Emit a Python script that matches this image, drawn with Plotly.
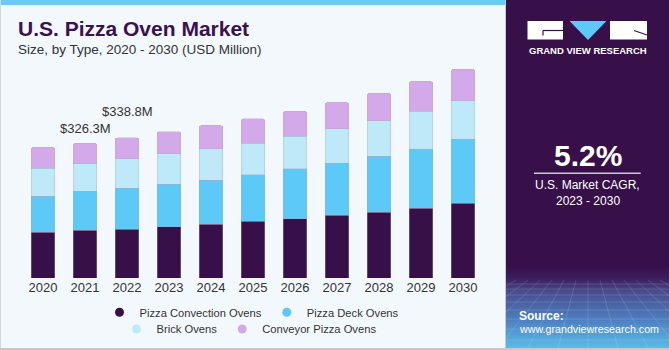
import plotly.graph_objects as go

# ---------------- data ----------------
years = ["2020", "2021", "2022", "2023", "2024", "2025", "2026", "2027", "2028", "2029", "2030"]
convection = [110.5, 115.0, 118.4, 124.0, 130.5, 136.8, 143.3, 151.3, 159.5, 169.2, 181.3]
deck = [87.0, 94.3, 98.1, 103.2, 106.3, 112.9, 120.9, 125.7, 134.4, 142.6, 154.7]
brick = [68.4, 67.0, 71.5, 73.3, 75.7, 75.7, 79.0, 83.9, 86.3, 91.8, 92.6]
conveyor = [50.0, 50.0, 50.8, 53.2, 56.4, 59.0, 60.4, 63.6, 66.9, 71.5, 76.6]
series_names = ["Pizza Convection Ovens", "Pizza Deck Ovens", "Brick Ovens", "Conveyor Pizza Ovens"]
label_years = ["2021", "2022"]
cagr_text = "5.2%"

# ---------------- styling ----------------
W, H = 670, 350
COLORS = ["#37104a", "#5cc9f6", "#bde9f9", "#d4a9ea"]
BG = "#f3f8fc"
PURPLE = "#37104a"
FONT = "Liberation Sans, Arial, sans-serif"


def px(x):
    return x / W


def py(y):
    return 1 - y / H


fig = go.Figure()
series = [convection, deck, brick, conveyor]
for name, vals, col in zip(series_names, series, COLORS):
    fig.add_trace(go.Bar(
        x=years, y=vals, name=name,
        marker=dict(color=col, line=dict(color="rgba(170,170,190,0.6)", width=0.6)),
        showlegend=False, hoverinfo="x+y+name"))

# legend entries (circle markers), split in two centred rows
for i, (name, col) in enumerate(zip(series_names, COLORS)):
    fig.add_trace(go.Scatter(
        x=[years[0]], y=[-100], mode="markers", name=name,
        marker=dict(symbol="circle", size=9, color=col),
        legend="legend" if i < 2 else "legend2", hoverinfo="skip"))

totals = [a + b + c + d for a, b, c, d in zip(*series)]
shifts = {"2021": 15, "2022": 26}
annotations = []
for yr in label_years:
    idx = years.index(yr)
    annotations.append(dict(
        x=idx, y=totals[idx], xref="x", yref="y", text=f"${totals[idx]:.1f}M",
        showarrow=False, xanchor="center", yanchor="middle", yshift=shifts[yr],
        font=dict(family=FONT, size=13, color="#333333")))

# title & subtitle
annotations.append(dict(x=px(16), y=py(28.5), xref="paper", yref="paper", xanchor="left", yanchor="middle",
                        text="<b>U.S. Pizza Oven Market</b>", showarrow=False,
                        font=dict(family=FONT, size=21, color="#3a1150")))
annotations.append(dict(x=px(16), y=py(49.5), xref="paper", yref="paper", xanchor="left", yanchor="middle",
                        text="Size, by Type, 2020 - 2030 (USD Million)", showarrow=False,
                        font=dict(family=FONT, size=13.5, color="#333333")))

# right panel texts
annotations.append(dict(x=px(587.5), y=py(50.7), xref="paper", yref="paper", xanchor="center", yanchor="middle",
                        text="<b>GRAND VIEW RESEARCH</b>", showarrow=False,
                        font=dict(family=FONT, size=9.5, color="white")))
annotations.append(dict(x=px(587.5), y=py(155), xref="paper", yref="paper", xanchor="center", yanchor="middle",
                        text=f"<b>{cagr_text}</b>", showarrow=False,
                        font=dict(family=FONT, size=30, color="white")))
annotations.append(dict(x=px(587.5), y=py(185), xref="paper", yref="paper", xanchor="center", yanchor="middle",
                        text="U.S. Market CAGR,", showarrow=False,
                        font=dict(family=FONT, size=12, color="white")))
annotations.append(dict(x=px(587.5), y=py(200.7), xref="paper", yref="paper", xanchor="center", yanchor="middle",
                        text="2023 - 2030", showarrow=False,
                        font=dict(family=FONT, size=12, color="white")))
annotations.append(dict(x=px(517), y=py(315.7), xref="paper", yref="paper", xanchor="left", yanchor="middle",
                        text="<b>Source:</b>", showarrow=False,
                        font=dict(family=FONT, size=12, color="white")))
annotations.append(dict(x=px(517), y=py(329.3), xref="paper", yref="paper", xanchor="left", yanchor="middle",
                        text="www.grandviewresearch.com", showarrow=False,
                        font=dict(family=FONT, size=10.7, color="white")))

shapes = []


def rect(x0, y0, x1, y1, color, layer="below", line=None):
    shapes.append(dict(type="rect", xref="paper", yref="paper", x0=px(x0), x1=px(x1), y0=py(y1), y1=py(y0),
                       fillcolor=color, line=line or dict(width=0), layer=layer))


def seg(x0, y0, x1, y1, color, width=1, layer="above"):
    shapes.append(dict(type="line", xref="paper", yref="paper", x0=px(x0), x1=px(x1), y0=py(y0), y1=py(y1),
                       line=dict(color=color, width=width), layer=layer))


# top stripe
rect(0, 0, 505, 5, "#6ccbf1")
# panel
rect(506, 0, 670, 348, PURPLE)


def lerp(c1, c2, t):
    return "#%02x%02x%02x" % tuple(int(round(a + (b - a) * t)) for a, b in zip(c1, c2))


stops = [(265, (55, 16, 74)), (278, (62, 30, 95)), (290, (72, 75, 140)), (320, (78, 130, 195)), (348, (90, 190, 235))]
y = 265
while y < 348:
    for (ya, ca), (yb, cb) in zip(stops[:-1], stops[1:]):
        if ya <= y < yb:
            c = lerp(ca, cb, (y - ya) / (yb - ya))
    rect(506, y, 670, min(y + 2, 348), c)
    y += 2

# faint perspective grid
for gy in [284, 289, 295, 302, 310, 319, 329, 340]:
    seg(506, gy, 670, gy, "rgba(255,255,255,0.13)", 1, "below")
for k in range(-8, 9):
    seg(588 + k * 12, 280, 588 + k * 30, 348, "rgba(255,255,255,0.13)", 1, "below")

# borders
seg(0.5, 0, 0.5, 350, "#d6d6d6", 1)
seg(505.5, 0, 505.5, 348, "#c8c8d0", 1)
rect(0, 348, 670, 350, "#c8c8c8", "above")
seg(669.5, 0, 669.5, 350, "#d6d6d6", 1)

# logo
rect(527.5, 21, 563, 39.5, "white", "above")
seg(543, 30.5, 563, 30.5, PURPLE, 1.2)
seg(543, 30.5, 543, 35.5, PURPLE, 1.2)
shapes.append(dict(type="path", xref="paper", yref="paper",
                   path=f"M {px(569.5)} {py(21)} L {px(606.5)} {py(21)} L {px(588)} {py(40)} Z",
                   fillcolor="#5cc9f6", line=dict(width=0), layer="above"))
rect(610, 21, 647, 39.5, "white", "above")
seg(634, 30.5, 647, 35, PURPLE, 1.2)
# divider line under CAGR
seg(534, 173.3, 640.7, 173.3, "#cfc6da", 1.5)

fig.update_layout(
    width=W, height=H, margin=dict(l=0, r=0, t=0, b=0, autoexpand=False),
    paper_bgcolor=BG, plot_bgcolor="rgba(0,0,0,0)",
    barmode="stack", bargap=0.43, barcornerradius=2,
    xaxis=dict(domain=[px(22), px(484)], type="category", categoryorder="array", categoryarray=years,
               range=[-0.5, len(years) - 0.5], autorange=False, showgrid=False,
               zeroline=False, showline=False, ticks="", fixedrange=True,
               tickfont=dict(family=FONT, size=13, color="#333333")),
    yaxis=dict(domain=[py(278), py(60)], range=[0, 527], autorange=False, visible=False, fixedrange=True),
    legend=dict(orientation="h", x=px(252), xanchor="center", y=py(312.3), yanchor="middle",
                traceorder="normal", bgcolor="rgba(0,0,0,0)", font=dict(family=FONT, size=11.2, color="#333333"),
                itemclick=False, itemdoubleclick=False),
    legend2=dict(orientation="h", x=px(249), xanchor="center", y=py(329), yanchor="middle",
                 traceorder="normal", bgcolor="rgba(0,0,0,0)", font=dict(family=FONT, size=11.2, color="#333333"),
                 itemclick=False, itemdoubleclick=False),
    annotations=annotations, shapes=shapes, showlegend=True,
)

fig.write_html("out.html")
